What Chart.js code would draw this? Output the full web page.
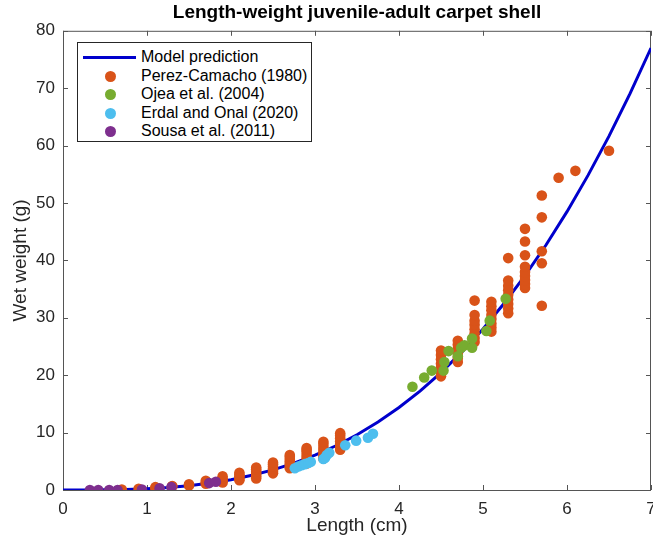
<!DOCTYPE html>
<html lang="en">
<head>
    <meta charset="UTF-8">
    <title>Length-weight juvenile-adult carpet shell</title>
    <script src="https://cdn.jsdelivr.net/npm/chart.js"></script>
    <style>
        html, body {
            margin: 0;
            background: #fff;
            overflow: hidden;
            font-family: 'Liberation Sans', Arial, sans-serif;
        }

        .wrap {
            position: relative;
            width: 653px;
            height: 543px;
        }

        #myChart {
            display: block;
        }

        #legend {
            position: absolute;
            left: 77px;
            top: 42px;
            width: 235px;
            height: 100px;
            border: 1px solid #262626;
            background: #fff;
            box-sizing: border-box;
            padding-top: 5px;
        }

        .row {
            position: relative;
            height: 18.6px;
            line-height: 18.6px;
            font-size: 16px;
            color: #000;
            padding-left: 63px;
            white-space: nowrap;
        }

        .row .line {
            position: absolute;
            left: 5px;
            top: 8px;
            width: 53px;
            height: 3px;
        }

        .row .dot {
            position: absolute;
            left: 27px;
            top: 4px;
            width: 11px;
            height: 11px;
            border-radius: 50%;
        }
    </style>
</head>
<body>
    <div class="wrap">
        <canvas id="myChart" width="653" height="543"></canvas>
        <div id="legend"></div>
    </div>

    <script>
        // model curve
        const modelL = [0, 0.25, 0.5, 0.75, 1, 1.25, 1.5, 1.75, 2, 2.25, 2.5, 2.75, 3, 3.25, 3.5, 3.75,
            4, 4.25, 4.5, 4.75, 5, 5.25, 5.5, 5.75, 6, 6.25, 6.5, 6.75, 7];
        const modelW = [0, 0.004, 0.03, 0.09, 0.22, 0.44, 0.76, 1.2, 1.8, 2.56, 3.51, 4.67, 6.06, 7.71, 9.63, 11.84,
            14.37, 17.23, 20.46, 24.06, 28.06, 32.49, 37.35, 42.68, 48.49, 54.81, 61.65, 69.04, 77.0];

        // Perez-Camacho (1980)
        const perezL = [0.7, 0.9, 1.1, 1.1, 1.3, 1.3, 1.5, 1.5, 1.7, 1.7, 1.7,
            1.9, 1.9, 1.9, 1.9, 2.1, 2.1, 2.1, 2.1, 2.1,
            2.3, 2.3, 2.3, 2.3, 2.3, 2.3, 2.5, 2.5, 2.5, 2.5, 2.5, 2.5,
            2.7, 2.7, 2.7, 2.7, 2.7, 2.7, 2.7, 2.9, 2.9, 2.9, 2.9, 2.9, 2.9, 2.9,
            3.1, 3.1, 3.1, 3.1, 3.1, 3.1, 3.1, 3.3, 3.3, 3.3, 3.3, 3.3, 3.3, 3.3,
            4.5, 4.5, 4.5, 4.5, 4.5, 4.5, 4.5, 4.7, 4.7, 4.7, 4.7, 4.7, 4.7,
            4.9, 4.9, 4.9, 4.9, 4.9, 4.9, 4.9, 4.9, 5.1, 5.1, 5.1, 5.1, 5.1, 5.1, 5.1, 5.1,
            5.3, 5.3, 5.3, 5.3, 5.3, 5.3, 5.3, 5.3, 5.3, 5.5, 5.5, 5.5, 5.5, 5.5, 5.5, 5.5, 5.5, 5.5,
            5.7, 5.7, 5.7, 5.7, 5.7, 5.9, 6.1, 6.5];
        const perezW = [0.1, 0.2, 0.3, 0.5, 0.6, 0.7, 0.8, 1.0, 1.1, 1.3, 1.6,
            1.3, 1.6, 2.0, 2.4, 1.7, 2.0, 2.4, 2.7, 3.0,
            2.0, 2.4, 2.8, 3.2, 3.6, 3.9, 2.9, 3.3, 3.7, 4.1, 4.5, 4.8,
            3.8, 4.2, 4.6, 5.0, 5.4, 5.8, 6.1, 4.6, 5.1, 5.6, 6.1, 6.6, 7.0, 7.3,
            5.5, 6.0, 6.5, 7.0, 7.5, 8.0, 8.4, 7.0, 7.5, 8.0, 8.5, 9.0, 9.5, 9.9,
            19.8, 20.5, 21.3, 22.0, 22.8, 23.5, 24.3, 22.3, 23.0, 23.8, 24.5, 25.3, 26.0,
            25.8, 26.5, 27.3, 28.0, 28.8, 29.5, 30.5, 33.0, 27.6, 28.3, 29.0, 29.8, 30.5, 31.3, 32.0, 32.8,
            30.8, 31.6, 32.4, 33.2, 34.0, 34.8, 35.6, 36.5, 40.4, 35.2, 35.9, 36.6, 37.3, 38.0, 38.9, 40.9, 43.3, 45.5,
            32.1, 39.5, 41.6, 47.5, 51.3, 54.4, 55.6, 59.1];

        // Ojea et al. (2004)
        const ojeaL = [4.16, 4.30, 4.39, 4.53, 4.54, 4.59, 4.70, 4.74, 4.78, 4.87, 4.87, 5.04, 5.08, 5.27];
        const ojeaW = [18.0, 19.6, 20.8, 20.8, 22.3, 24.2, 23.3, 24.8, 25.2, 26.4, 24.8, 27.7, 29.5, 33.3];

        // Erdal and Onal (2020)
        const erdalL = [2.76, 2.80, 2.84, 2.88, 2.92, 2.95, 3.10, 3.12, 3.14, 3.17, 3.36, 3.49, 3.63, 3.69];
        const erdalW = [3.8, 4.1, 4.3, 4.5, 4.7, 4.9, 5.4, 5.6, 6.1, 6.5, 7.8, 8.6, 9.1, 9.8];

        // Sousa et al. (2011)
        const sousaL = [0.32, 0.42, 0.55, 0.65, 0.94, 1.15, 1.29, 1.74, 1.82];
        const sousaW = [0.0, 0.0, 0.0, 0.0, 0.1, 0.3, 0.5, 1.2, 1.45];

        const xTicks = [0, 1, 2, 3, 4, 5, 6, 7];
        const yTicks = [0, 10, 20, 30, 40, 50, 60, 70, 80];

        function toPoints(xs, ys) {
            return xs.map((x, i) => ({ x: x, y: ys[i] }));
        }

        const series = [
            { label: 'Perez-Camacho (1980)', color: '#D95319', xs: perezL, ys: perezW, order: 4 },
            { label: 'Ojea et al. (2004)', color: '#77AC30', xs: ojeaL, ys: ojeaW, order: 3 },
            { label: 'Erdal and Onal (2020)', color: '#4DBEEE', xs: erdalL, ys: erdalW, order: 2 },
            { label: 'Sousa et al. (2011)', color: '#7E2F8E', xs: sousaL, ys: sousaW, order: 1 }
        ];

        const axisColor = '#262626';

        // box round the plot with inward ticks, like matlab
        const boxPlugin = {
            id: 'box',
            beforeDatasetsDraw(chart) {
                const { ctx, chartArea: a, scales } = chart;
                ctx.save();
                ctx.strokeStyle = '#555';
                ctx.lineWidth = 1;
                ctx.strokeRect(a.left + 0.5, a.top + 0.5, a.right - a.left - 1, a.bottom - a.top);
                ctx.beginPath();
                xTicks.forEach(v => {
                    const px = Math.round(scales.x.getPixelForValue(v)) + 0.5;
                    ctx.moveTo(px, a.bottom); ctx.lineTo(px, a.bottom - 5);
                    ctx.moveTo(px, a.top); ctx.lineTo(px, a.top + 5);
                });
                yTicks.forEach(v => {
                    const py = Math.round(scales.y.getPixelForValue(v)) + 0.5;
                    ctx.moveTo(a.left, py); ctx.lineTo(a.left + 5, py);
                    ctx.moveTo(a.right, py); ctx.lineTo(a.right - 5, py);
                });
                ctx.stroke();
                ctx.restore();
            }
        };

        Chart.defaults.font.family = "'Liberation Sans', Arial, sans-serif";
        Chart.defaults.color = axisColor;

        const datasets = [{
            label: 'Model prediction',
            data: toPoints(modelL, modelW),
            showLine: true,
            borderColor: '#0000CC',
            borderWidth: 3,
            pointRadius: 0,
            fill: false,
            order: 5
        }];
        series.forEach(s => {
            datasets.push({
                label: s.label,
                data: toPoints(s.xs, s.ys),
                backgroundColor: s.color,
                borderColor: s.color,
                borderWidth: 0,
                pointRadius: 5.3,
                order: s.order
            });
        });

        var ctx = document.getElementById('myChart').getContext('2d');
        var myChart = new Chart(ctx, {
            type: 'scatter',
            data: { datasets: datasets },
            plugins: [boxPlugin],
            options: {
                responsive: false,
                animation: false,
                layout: {
                    autoPadding: false,
                    padding: { top: 0, right: 2, bottom: 0, left: 0 }
                },
                plugins: {
                    legend: { display: false },
                    tooltip: { enabled: false },
                    title: {
                        display: true,
                        text: 'Length-weight juvenile-adult carpet shell',
                        fullSize: false,
                        color: '#000',
                        font: { size: 19, weight: 'bold' },
                        padding: { top: 1, bottom: 7 }
                    }
                },
                scales: {
                    x: {
                        type: 'linear',
                        min: 0,
                        max: 7,
                        afterFit: s => { s.height = 53; s.paddingLeft = 0; s.paddingRight = 0; },
                        afterBuildTicks: s => { s.ticks = xTicks.map(v => ({ value: v })); },
                        grid: { display: false, drawTicks: false },
                        border: { display: false },
                        ticks: { padding: 9, font: { size: 17 }, color: axisColor },
                        title: { display: true, text: 'Length (cm)', font: { size: 19 }, color: axisColor, padding: { top: 2, bottom: 6 } }
                    },
                    y: {
                        type: 'linear',
                        min: 0,
                        max: 80,
                        afterFit: s => { s.width = 63; s.paddingTop = 0; s.paddingBottom = 0; },
                        afterBuildTicks: s => { s.ticks = yTicks.map(v => ({ value: v })); },
                        grid: { display: false, drawTicks: false },
                        border: { display: false },
                        ticks: { padding: 8, font: { size: 17 }, color: axisColor },
                        title: { display: true, text: 'Wet weight (g)', font: { size: 19 }, color: axisColor, padding: { top: 9, bottom: 4 } }
                    }
                }
            }
        });

        // legend, built from the datasets
        const legend = document.getElementById('legend');
        datasets.forEach(d => {
            const row = document.createElement('div');
            row.className = 'row';
            const mark = document.createElement('span');
            if (d.showLine) {
                mark.className = 'line';
                mark.style.background = d.borderColor;
            } else {
                mark.className = 'dot';
                mark.style.background = d.backgroundColor;
            }
            row.appendChild(mark);
            row.appendChild(document.createTextNode(d.label));
            legend.appendChild(row);
        });
    </script>
</body>
</html>
